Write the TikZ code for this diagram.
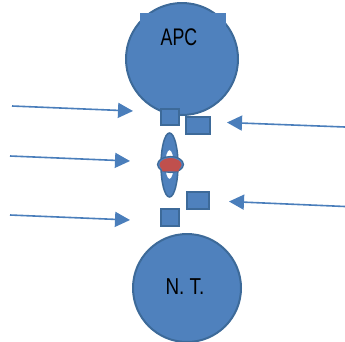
\documentclass[tikz,border=0pt]{standalone}
\usepackage{fontspec}
\setmainfont{Liberation Sans}
\usetikzlibrary{shapes.geometric,arrows.meta}
\definecolor{bfill}{HTML}{4F81BD}
\definecolor{bline}{HTML}{3D6A99}
\definecolor{arr}{HTML}{4A7EBB}
\definecolor{rfill}{HTML}{C0504D}
\begin{document}
\begin{tikzpicture}[x=1pt,y=-1pt,
  cell/.style={circle,fill=bfill,draw=bline,line width=2pt,inner sep=0pt},
  sq/.style={rectangle,fill=bfill,draw=bline,line width=2pt,inner sep=0pt},
  inarrow/.style={draw=arr,line width=1.6pt,-{Triangle[length=15pt,width=15pt]}},
  lab/.style={font=\fontsize{24}{24}\selectfont,text=black,inner sep=0pt}]
\useasboundingbox (0,0) rectangle (345,341);
% APC
\node[cell,minimum size=112pt] (apc) at (182,59) {};
\fill[bfill] (140,13) rectangle (226,40);
\node[lab] (apctext) at (179,37) {\scalebox{0.74}[1]{APC}};
% N.T.
\node[cell,minimum size=108pt] (nt) at (187,288) {};
\node[lab,font=\fontsize{23}{23}\selectfont] (nttext) at (185,287) {\scalebox{0.82}[1]{N. T.}};
% receptors
\node[sq,minimum width=18pt,minimum height=16pt] (s1) at (169.5,116.5) {};
\node[sq,minimum width=24pt,minimum height=17pt] (s2) at (197.5,125) {};
\node[sq,minimum width=22pt,minimum height=17pt] (s3) at (197.5,200) {};
\node[sq,minimum width=18pt,minimum height=17pt] (s4) at (170,217) {};
% central ring shape
\fill[bfill,even odd rule] (169.5,165) ellipse [x radius=8.5pt,y radius=32pt]
  (169.5,164.5) ellipse [x radius=4.2pt,y radius=14.5pt];
\draw[bline,line width=1.5pt] (169.5,165) ellipse [x radius=8.5pt,y radius=32pt];
\node[ellipse,minimum width=26pt,minimum height=16pt,inner sep=0pt,fill=bfill,draw=bline,line width=1.2pt] (mid) at (170.5,164.5) {};
\fill[rfill] (159.5,165) arc[start angle=180,end angle=0,x radius=11pt,y radius=7pt]
  .. controls (181.5,169) and (179,167) .. (178.5,171.3)
  -- (162.5,171.3) .. controls (162,167) and (159.5,169) .. cycle;
% arrows
\coordinate (a1s) at (12,106);   \coordinate (a1e) at (133,111);
\coordinate (a2s) at (10,156);   \coordinate (a2e) at (130,161);
\coordinate (a3s) at (10,215);   \coordinate (a3e) at (130,220);
\coordinate (a4s) at (345,127);  \coordinate (a4e) at (227,122.5);
\coordinate (a5s) at (345,206.5);\coordinate (a5e) at (229,201.5);
\draw[inarrow] (a1s) -- (a1e);
\draw[inarrow] (a2s) -- (a2e);
\draw[inarrow] (a3s) -- (a3e);
\draw[inarrow] (a4s) -- (a4e);
\draw[inarrow] (a5s) -- (a5e);
\end{tikzpicture}
\end{document}
